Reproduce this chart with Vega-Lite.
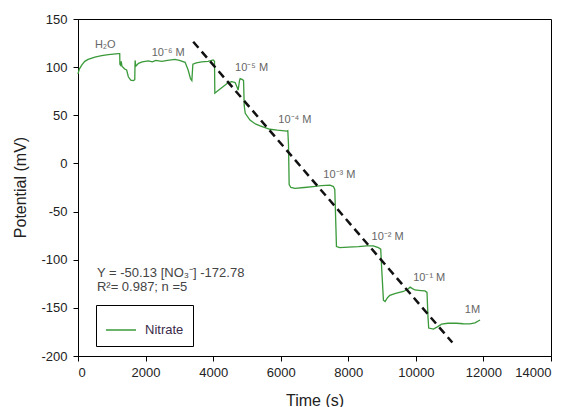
{
  "$schema": "https://vega.github.io/schema/vega-lite/v6.json",
  "width": 473,
  "height": 337,
  "autosize": {"type": "none"},
  "padding": {"left": 78, "top": 19, "right": 19, "bottom": 51},
  "background": "white",
  "config": {
    "font": "Liberation Sans",
    "view": {"stroke": "black", "strokeWidth": 1},
    "axis": {
      "grid": false,
      "domainColor": "black",
      "tickColor": "black",
      "tickSize": 5,
      "labelFontSize": 13,
      "labelColor": "#222",
      "titleFontSize": 16,
      "titleFontWeight": "normal",
      "titleColor": "#222"
    }
  },
  "datasets": {
    "nitrate": [
      {"t": 0, "v": 93}, {"t": 40, "v": 98}, {"t": 110, "v": 102}, {"t": 200, "v": 106},
      {"t": 300, "v": 108}, {"t": 500, "v": 110.5}, {"t": 700, "v": 112}, {"t": 900, "v": 113},
      {"t": 1190, "v": 114}, {"t": 1235, "v": 114}, {"t": 1240, "v": 103}, {"t": 1260, "v": 102},
      {"t": 1280, "v": 106}, {"t": 1300, "v": 101}, {"t": 1380, "v": 98}, {"t": 1440, "v": 97},
      {"t": 1490, "v": 90}, {"t": 1560, "v": 86.5}, {"t": 1640, "v": 86}, {"t": 1680, "v": 87},
      {"t": 1690, "v": 107}, {"t": 1710, "v": 101}, {"t": 1790, "v": 104}, {"t": 1900, "v": 105.5},
      {"t": 2080, "v": 106.5}, {"t": 2200, "v": 105.5}, {"t": 2300, "v": 107}, {"t": 2480, "v": 106},
      {"t": 2650, "v": 107}, {"t": 2870, "v": 108}, {"t": 3000, "v": 107}, {"t": 3170, "v": 105},
      {"t": 3260, "v": 97}, {"t": 3330, "v": 88}, {"t": 3370, "v": 86}, {"t": 3400, "v": 103},
      {"t": 3500, "v": 104.5}, {"t": 3660, "v": 105.5}, {"t": 3850, "v": 106}, {"t": 4000, "v": 107.5},
      {"t": 4040, "v": 106}, {"t": 4050, "v": 73}, {"t": 4120, "v": 75}, {"t": 4300, "v": 80},
      {"t": 4450, "v": 84}, {"t": 4550, "v": 85}, {"t": 4650, "v": 84}, {"t": 4700, "v": 80},
      {"t": 4740, "v": 76}, {"t": 4780, "v": 86}, {"t": 4800, "v": 88}, {"t": 4870, "v": 87},
      {"t": 4900, "v": 86}, {"t": 4920, "v": 60}, {"t": 4950, "v": 52}, {"t": 5090, "v": 45},
      {"t": 5250, "v": 41}, {"t": 5390, "v": 39}, {"t": 5680, "v": 35.5}, {"t": 5900, "v": 34.5},
      {"t": 6180, "v": 33.5}, {"t": 6210, "v": 34}, {"t": 6230, "v": 20}, {"t": 6250, "v": -22},
      {"t": 6300, "v": -25}, {"t": 6420, "v": -26}, {"t": 6700, "v": -25}, {"t": 6960, "v": -24},
      {"t": 7200, "v": -23}, {"t": 7460, "v": -22.5}, {"t": 7560, "v": -24}, {"t": 7600, "v": -27},
      {"t": 7620, "v": -50}, {"t": 7650, "v": -86.4}, {"t": 7750, "v": -87.5}, {"t": 8000, "v": -87},
      {"t": 8300, "v": -86.5}, {"t": 8540, "v": -85.7}, {"t": 8740, "v": -85.7}, {"t": 8890, "v": -87.5},
      {"t": 8960, "v": -89}, {"t": 8990, "v": -110}, {"t": 9040, "v": -142}, {"t": 9090, "v": -143.5},
      {"t": 9160, "v": -139.5}, {"t": 9230, "v": -137}, {"t": 9400, "v": -135}, {"t": 9630, "v": -133},
      {"t": 9750, "v": -131}, {"t": 9830, "v": -128.5}, {"t": 9900, "v": -130}, {"t": 9970, "v": -131.4},
      {"t": 10150, "v": -132}, {"t": 10270, "v": -132.4}, {"t": 10330, "v": -134}, {"t": 10360, "v": -160},
      {"t": 10380, "v": -171}, {"t": 10520, "v": -172}, {"t": 10650, "v": -169.5}, {"t": 10760, "v": -167},
      {"t": 10950, "v": -166}, {"t": 11200, "v": -166}, {"t": 11400, "v": -166.5}, {"t": 11600, "v": -166.7},
      {"t": 11750, "v": -165.5}, {"t": 11900, "v": -162.6}
    ],
    "fit": [
      {"t": 3410, "v": 126.4},
      {"t": 11080, "v": -186}
    ],
    "labels": [
      {"t": 500, "v": 123.5, "text": "H₂O"},
      {"t": 2180, "v": 114.4, "text": "10⁻⁶ M"},
      {"t": 4650, "v": 98.8, "text": "10⁻⁵ M"},
      {"t": 5930, "v": 45, "text": "10⁻⁴ M"},
      {"t": 7260, "v": -12, "text": "10⁻³ M"},
      {"t": 8690, "v": -76, "text": "10⁻² M"},
      {"t": 9920, "v": -119.3, "text": "10⁻¹ M"},
      {"t": 11450, "v": -152, "text": "1M"}
    ],
    "equation": [
      {"t": 560, "v": -113.5, "text": "Y = -50.13 [NO₃⁻] -172.78"},
      {"t": 560, "v": -128, "text": "R²= 0.987; n =5"}
    ]
  },
  "encoding": {
    "x": {
      "field": "t", "type": "quantitative",
      "scale": {"domain": [0, 14000], "nice": false, "zero": false},
      "axis": {"title": "Time (s)", "values": [0, 2000, 4000, 6000, 8000, 10000, 12000, 14000], "labelExpr": "toString(datum.value)", "labelPadding": 5, "titleY": 36, "titleBaseline": "top"}
    },
    "y": {
      "field": "v", "type": "quantitative",
      "scale": {"domain": [-200, 150], "nice": false, "zero": false},
      "axis": {"title": "Potential (mV)", "values": [-200, -150, -100, -50, 0, 50, 100, 150], "labelExpr": "toString(datum.value)", "labelPadding": 6, "titleX": -58, "titleY": 168, "titleAngle": -90, "titleBaseline": "middle", "titleAlign": "center"}
    }
  },
  "layer": [
    {
      "data": {"name": "nitrate"},
      "mark": {"type": "line", "strokeWidth": 1.3, "interpolate": "linear"},
      "encoding": {
        "color": {
          "datum": "Nitrate",
          "type": "nominal",
          "scale": {"range": ["#3a9a3a"]},
          "legend": {
            "title": null,
            "orient": "none",
            "legendX": 18,
            "legendY": 286,
            "direction": "vertical",
            "strokeColor": "black",
            "fillColor": "white",
            "padding": 9,
            "symbolType": "stroke",
            "symbolSize": 900,
            "symbolStrokeWidth": 1.5,
            "labelFontSize": 13,
            "labelColor": "#3a2a4a",
            "labelOffset": 8
          }
        }
      }
    },
    {
      "data": {"name": "fit"},
      "mark": {"type": "line", "color": "#111", "strokeWidth": 2.5, "strokeDash": [8, 5]},
      "encoding": {}
    },
    {
      "data": {"name": "labels"},
      "mark": {"type": "text", "align": "left", "baseline": "middle", "fontSize": 11, "color": "#666"},
      "encoding": {"text": {"field": "text"}}
    },
    {
      "data": {"name": "equation"},
      "mark": {"type": "text", "align": "left", "baseline": "middle", "fontSize": 13, "color": "#444"},
      "encoding": {"text": {"field": "text"}}
    }
  ]
}
